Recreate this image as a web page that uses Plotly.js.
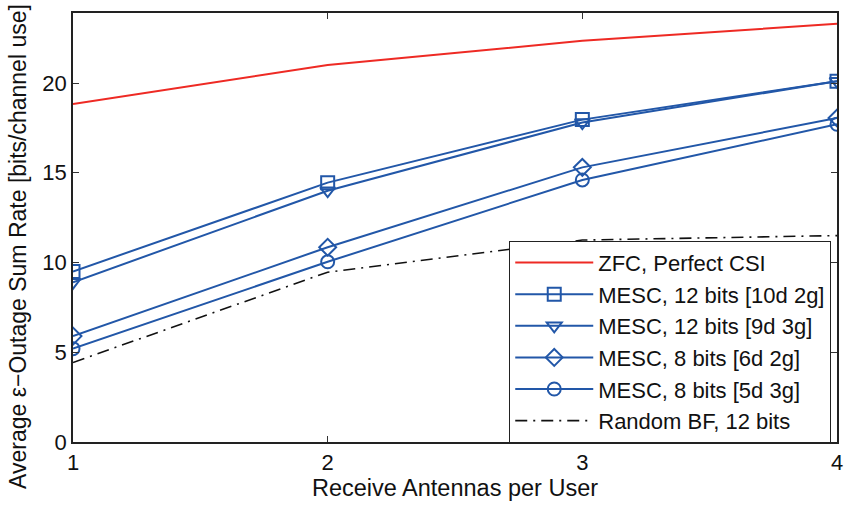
<!DOCTYPE html>
<html><head><meta charset="utf-8">
<script src="https://cdn.plot.ly/plotly-3.0.1.min.js"></script>
<style>html,body{margin:0;padding:0;background:#fff}</style>
</head><body><div id="chart" style="width:845px;height:505px"></div>
<script>
const antennas = [1, 2, 3, 4];
const zfc = [18.83, 21.0, 22.35, 23.3];
const mesc12_10d2g = [9.5, 14.45, 17.96, 20.1];
const mesc12_9d3g = [8.9, 14.0, 17.8, 20.1];
const mesc8_6d2g = [5.9, 10.85, 15.3, 18.05];
const mesc8_5d3g = [5.2, 10.04, 14.6, 17.7];
const randomBF = [4.43, 9.46, 11.25, 11.5];
const names = ["ZFC, Perfect CSI", "MESC, 12 bits [10d 2g]", "MESC, 12 bits [9d 3g]", "MESC, 8 bits [6d 2g]", "MESC, 8 bits [5d 3g]", "Random BF, 12 bits"];
const yTitle = "Average \u03b5\u2212Outage Sum Rate [bits/channel use]";
const xTitle = "Receive Antennas per User";

const blue = "#2257a8";
function mesc(y, name, sym) {
  return {x: antennas, y: y, name: name, mode: "lines+markers",
    line: {color: blue, width: 2},
    marker: {symbol: sym, size: 13, color: blue, line: {color: blue, width: 2}}};
}
const traces = [
  {x: antennas, y: zfc, name: names[0], mode: "lines", line: {color: "#ee2a24", width: 2}},
  mesc(mesc12_10d2g, names[1], "square-open"),
  mesc(mesc12_9d3g, names[2], "triangle-down-open"),
  mesc(mesc8_6d2g, names[3], "diamond-open"),
  mesc(mesc8_5d3g, names[4], "circle-open"),
  {x: antennas, y: randomBF, name: names[5], mode: "lines", line: {color: "#111", width: 1.6, dash: "12px,6px,2px,6px"}}
];
const font = {family: "Liberation Sans, Arial, sans-serif", color: "#111"};
const layout = {
  width: 845, height: 505,
  margin: {l: 73, r: 8, t: 13, b: 63},
  paper_bgcolor: "#fff", plot_bgcolor: "#fff",
  font: Object.assign({size: 22}, font),
  showlegend: true,
  xaxis: {range: [1, 4], tickvals: antennas, ticks: "inside", ticklen: 6, tickcolor: "#333",
    showline: true, mirror: "allticks", linecolor: "#222", linewidth: 1.5, showgrid: false, zeroline: false,
    tickfont: {size: 22}, title: {text: xTitle, font: {size: 23.5}, standoff: 5}},
  yaxis: {range: [0, 23.9], tickvals: [0, 5, 10, 15, 20], ticks: "inside", ticklen: 6, tickcolor: "#333",
    showline: true, mirror: "allticks", linecolor: "#222", linewidth: 1.5, showgrid: false, zeroline: false,
    tickfont: {size: 22}},
  annotations: [{text: yTitle, xref: "paper", yref: "paper", x: -0.072, y: 0.457, xanchor: "center", yanchor: "middle",
    textangle: -90, showarrow: false, font: {size: 23}}],
  legend: {x: 0.571, y: 0.469, xanchor: "left", yanchor: "top", bgcolor: "#fff", bordercolor: "#222", borderwidth: 1,
    font: {size: 22}, itemwidth: 78, tracegroupgap: 0}
};
Plotly.newPlot("chart", traces, layout, {displayModeBar: false});
</script></body></html>
